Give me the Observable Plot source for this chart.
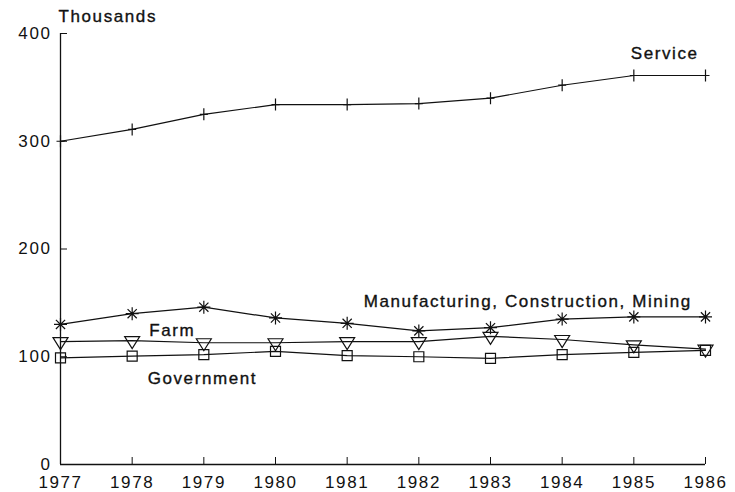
<!DOCTYPE html>
<html>
<head>
<meta charset="utf-8">
<script src="https://cdn.jsdelivr.net/npm/d3@7"></script>
<script src="https://cdn.jsdelivr.net/npm/@observablehq/plot@0.6"></script>
<style>
  html, body { margin: 0; padding: 0; background: #fff; }
  svg { display: block; }
</style>
</head>
<body>
<div id="chart"></div>
<script>
const years = [1977, 1978, 1979, 1980, 1981, 1982, 1983, 1984, 1985, 1986];
const service = [300, 311, 325, 334, 334, 335, 340, 352, 361, 361];
const manufacturing = [130, 140, 146, 136, 131, 124, 127, 135, 137, 137];
const farm = [114, 115, 113, 113, 114, 114, 119, 116, 111, 107];
const government = [99, 100.5, 102, 105, 101, 100, 98.5, 102, 104, 106];
const yTicks = [0, 100, 200, 300, 400];
const seriesNames = ["Service", "Manufacturing, Construction, Mining", "Farm", "Government"];

const rows = (vals, name) => years.map((yr, i) => ({year: yr, value: vals[i], series: name}));
const serviceRows = rows(service, seriesNames[0]);
const manuRows = rows(manufacturing, seriesNames[1]);
const farmRows = rows(farm, seriesNames[2]);
const govRows = rows(government, seriesNames[3]);

const plusSym = {draw(c) { c.moveTo(0, -6); c.lineTo(0, 6); c.moveTo(-4, 0); c.lineTo(4, 0); }};
const asteriskSym = {draw(c) {
  const r = 6.5;
  for (const a of [0, 45, 90, 135]) {
    const t = a * Math.PI / 180;
    c.moveTo(-r * Math.cos(t), -r * Math.sin(t));
    c.lineTo(r * Math.cos(t), r * Math.sin(t));
  }
}};
const triSym = {draw(c) { c.moveTo(-7.5, -4); c.lineTo(7.5, -4); c.lineTo(0, 8); c.closePath(); }};
const squareSym = {draw(c) { c.rect(-5, -5, 10, 10); }};

const ink = "#111";
const font = "'Liberation Sans', Arial, Helvetica, sans-serif";
const fs = 17;
const lineOpts = {x: "year", y: "value", stroke: ink, strokeWidth: 1.2};
const dotOpts = (sym) => ({x: "year", y: "value", symbol: () => sym, r: 5, stroke: ink, strokeWidth: 1.2, fill: "none"});
const textOpts = {text: d => d, fontSize: fs, fill: ink, stroke: ink, strokeWidth: 0.35};

const chart = Plot.plot({
  width: 735,
  height: 492,
  marginLeft: 60,
  marginRight: 30,
  marginTop: 33,
  marginBottom: 28,
  style: {fontFamily: font, fontSize: fs + "px", color: ink, background: "#fff", letterSpacing: "1.6px"},
  x: {domain: [1977, 1986], axis: null, label: null},
  y: {domain: [0, 400], axis: null, label: null},
  symbol: {type: "identity"},
  marks: [
    Plot.axisY({ticks: yTicks.slice(1), tickSize: -7, tickFormat: () => "", stroke: ink, label: null}),
    Plot.axisY({ticks: yTicks, tickSize: 0, tickPadding: 9, fontSize: fs, fill: ink, stroke: ink, strokeWidth: 0.35, label: null}),
    Plot.axisX({ticks: years, tickSize: -7, tickFormat: () => "", stroke: ink, label: null}),
    Plot.axisX({ticks: years, tickSize: 0, tickPadding: 11, tickFormat: d => String(d), fontSize: fs, fill: ink, stroke: ink, strokeWidth: 0.35, label: null}),
    Plot.ruleX([years[0]], {y1: yTicks[0], y2: yTicks[yTicks.length - 1], stroke: ink, strokeWidth: 1.3}),
    Plot.ruleY([yTicks[0]], {x1: years[0], x2: years[years.length - 1], stroke: ink, strokeWidth: 1.3}),
    Plot.line(serviceRows, lineOpts),
    Plot.line(manuRows, lineOpts),
    Plot.line(farmRows, lineOpts),
    Plot.line(govRows, lineOpts),
    Plot.dot(serviceRows, dotOpts(plusSym)),
    Plot.dot(manuRows, dotOpts(asteriskSym)),
    Plot.dot(farmRows, dotOpts(triSym)),
    Plot.dot(govRows, dotOpts(squareSym)),
    Plot.text(["Thousands"], {...textOpts, x: years[0], y: 416, textAnchor: "start", dx: -2}),
    Plot.text([seriesNames[0]], {...textOpts, x: 1985.43, y: 381}),
    Plot.text([seriesNames[1]], {...textOpts, x: 1983.52, y: 151.5}),
    Plot.text([seriesNames[2]], {...textOpts, x: 1978.56, y: 124.4}),
    Plot.text([seriesNames[3]], {...textOpts, x: 1978.98, y: 79.8})
  ]
});
document.getElementById("chart").appendChild(chart);
</script>
</body>
</html>
